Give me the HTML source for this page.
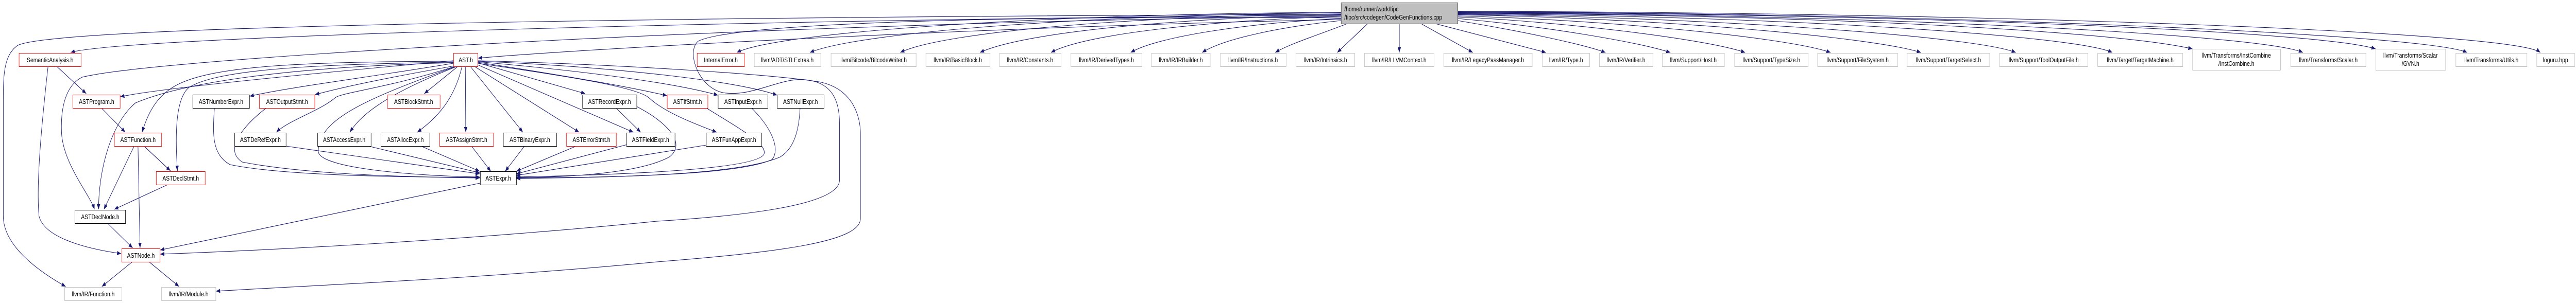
<!DOCTYPE html>
<html><head><meta charset="utf-8"><style>
html,body{margin:0;padding:0;background:#fff;width:100%;height:100%;overflow:hidden;}
svg{display:block;position:absolute;left:0;top:0;width:100vw;height:100vh;}
text{font-family:"Liberation Sans",sans-serif;font-size:13px;fill:#000;}
.e{fill:none;stroke:#191970;stroke-width:1.1;marker-end:url(#a);}
.r{fill:#fff;stroke:#ff0000;stroke-width:1;}
.b{fill:#fff;stroke:#000;stroke-width:1;}
.g{fill:#fff;stroke:#bfbfbf;stroke-width:1;}
</style></head><body>
<svg viewBox="0 0 6272 589" preserveAspectRatio="none" xmlns="http://www.w3.org/2000/svg">
<defs>
<marker id="a" markerUnits="userSpaceOnUse" markerWidth="11" markerHeight="8" refX="10" refY="4" orient="auto">
<path d="M0,0 L10,4 L0,8 z" fill="#191970"/>
</marker>
</defs>

<g class="edges">
<path class="e" d="M3265,28 C2500,30 100,40 40,90 C8,110 8,150 8,200 L8,420 C8,480 100,530 160,557"/>
<path class="e" d="M3265,30 C2000,35 300,70 172,102"/>
<path class="e" d="M3265,32 C2000,40 400,110 200,150 C150,170 148,230 150,260 C155,320 220,380 230,407"/>
<path class="e" d="M3265,38 C2500,50 1500,90 1164,113"/>
<path class="e" d="M3265,35 C2600,30 1800,40 1700,80 C1670,100 1700,170 1760,180 C1830,190 1900,150 1960,155 C2030,160 2044,200 2044,240 L2044,350 C2044,400 1800,420 1600,430 C1100,470 600,488 390,494"/>
<path class="e" d="M3265,24 C2600,26 1900,60 1794,102"/>
<path class="e" d="M3265,25 C2700,28 2100,60 1972,102"/>
<path class="e" d="M3265,27 C2800,30 2300,60 2192,102"/>
<path class="e" d="M3265,29 C2900,34 2500,60 2386,102"/>
<path class="e" d="M3265,32 C3000,38 2650,62 2559,102"/>
<path class="e" d="M3265,36 C3050,44 2820,70 2753,102"/>
<path class="e" d="M3265,40 C3120,52 2980,75 2927,102"/>
<path class="e" d="M3280,46 C3220,65 3140,85 3105,102"/>
<path class="e" d="M3330,46 L3256,102"/>
<path class="e" d="M3407,46 L3407,102"/>
<path class="e" d="M3460,46 L3586,102"/>
<path class="e" d="M3495,46 L3764,102"/>
<path class="e" d="M3549,40 C3700,60 3850,85 3909,102"/>
<path class="e" d="M3549,36 C3750,50 3980,80 4067,102"/>
<path class="e" d="M3549,33 C3800,42 4150,75 4249,102"/>
<path class="e" d="M3549,31 C3900,38 4350,72 4457,102"/>
<path class="e" d="M3549,29 C4000,34 4550,70 4677,102"/>
<path class="e" d="M3549,28 C4100,32 4800,68 4908,102"/>
<path class="e" d="M3549,27 C4300,30 5050,68 5143,102"/>
<path class="e" d="M3549,26 C4400,28 5150,60 5338,95"/>
<path class="e" d="M3549,25 C4500,27 5500,65 5607,102"/>
<path class="e" d="M3549,24 C4600,26 5650,60 5784,95"/>
<path class="e" d="M3549,23 C4700,25 5900,65 6007,102"/>
<path class="e" d="M3549,22 C4800,24 6120,60 6185,102"/>

<path class="e" d="M1104,118 C800,140 400,170 293,188"/>
<path class="e" d="M1104,119 C700,120 500,130 420,170 C380,190 360,220 346,257"/>
<path class="e" d="M1104,121 C700,125 520,140 460,170 C430,190 425,250 432,332"/>
<path class="e" d="M1104,122 C700,130 450,160 330,200 C270,240 240,330 240,407"/>
<path class="e" d="M1104,123 C900,150 700,170 608,187"/>
<path class="e" d="M1107,128 C950,150 830,170 767,184"/>
<path class="e" d="M1108,129 C950,170 830,180 816,190 C780,215 700,235 673,257"/>
<path class="e" d="M1110,129 C900,190 775,230 775,294 C775,330 1050,343 1168,344"/>
<path class="e" d="M1113,129 C950,180 880,220 852,257"/>
<path class="e" d="M1115,129 L1033,182"/>
<path class="e" d="M1125,129 C1110,180 1080,220 1016,257"/>
<path class="e" d="M1133,129 L1134,257"/>
<path class="e" d="M1145,129 L1273,257"/>
<path class="e" d="M1155,129 L1410,257"/>
<path class="e" d="M1163,122 L1425,182"/>
<path class="e" d="M1163,126 L1542,257"/>
<path class="e" d="M1163,121 C1400,150 1550,172 1624,186"/>
<path class="e" d="M1163,123 C1400,150 1550,170 1580,190 C1620,220 1700,243 1745,257"/>
<path class="e" d="M1163,120 C1450,140 1650,163 1748,185"/>
<path class="e" d="M1163,119 C1500,130 1800,158 1892,185"/>
<path class="e" d="M1163,118 C1500,125 1900,145 2000,160 C2080,175 2095,230 2095,260 L2095,425 C2095,470 1900,490 1600,509 C1200,540 800,553 526,566"/>

<path class="e" d="M522,210 C518,260 515,300 560,320 C700,343 1000,344 1168,345"/>
<path class="e" d="M648,210 C600,240 540,290 590,315 C750,340 1000,344 1168,346"/>
<path class="e" d="M696,284 L1168,338"/>
<path class="e" d="M897,284 L1168,336"/>
<path class="e" d="M1025,284 L1168,333"/>
<path class="e" d="M1148,284 L1195,333"/>
<path class="e" d="M1277,284 L1230,333"/>
<path class="e" d="M1403,284 L1257,333"/>
<path class="e" d="M1527,281 L1257,338"/>
<path class="e" d="M1720,282 L1257,341"/>
<path class="e" d="M1720,210 C1800,250 1870,280 1860,300 C1840,330 1500,340 1257,344"/>
<path class="e" d="M1830,210 C1880,250 1900,290 1880,310 C1800,340 1500,345 1257,346"/>
<path class="e" d="M1948,210 C1945,260 1930,290 1900,305 C1800,340 1500,345 1257,347"/>
<path class="e" d="M1550,207 C1630,240 1670,280 1630,305 C1550,340 1350,345 1257,345"/>
<path class="e" d="M1500,210 L1560,257"/>
<path class="e" d="M1169,356 L390,486"/>

<path class="e" d="M247,210 L305,257"/>
<path class="e" d="M326,285 L253,407"/>
<path class="e" d="M336,285 L341,482"/>
<path class="e" d="M352,285 L415,332"/>
<path class="e" d="M408,359 L278,407"/>
<path class="e" d="M262,434 L323,482"/>
<path class="e" d="M322,509 L248,557"/>
<path class="e" d="M363,509 L436,557"/>
<path class="e" d="M138,129 L210,182"/>
<path class="e" d="M117,129 C100,250 88,360 95,420 C110,470 250,488 295,493"/>
</g>

<g text-anchor="middle">
<rect x="3265.5" y="5.5" width="284" height="41" fill="#bfbfbf" stroke="#404040"/>
<text x="3273" y="22" text-anchor="start">/home/runner/work/tipc</text>
<text x="3273" y="38" text-anchor="start">/tipc/src/codegen/CodeGenFunctions.cpp</text>

<rect class="r" x="46.5" y="103.5" width="151" height="26"/><text x="122" y="121">SemanticAnalysis.h</text>
<rect class="r" x="1104.5" y="103.5" width="59" height="26"/><text x="1134" y="121">AST.h</text>
<rect class="r" x="1697.5" y="103.5" width="115" height="26"/><text x="1755" y="121">InternalError.h</text>
<rect class="g" x="1836.5" y="103.5" width="162" height="26"/><text x="1917" y="121">llvm/ADT/STLExtras.h</text>
<rect class="g" x="2023.5" y="103.5" width="207" height="26"/><text x="2127" y="121">llvm/Bitcode/BitcodeWriter.h</text>
<rect class="g" x="2254.5" y="103.5" width="156" height="26"/><text x="2332" y="121">llvm/IR/BasicBlock.h</text>
<rect class="g" x="2433.5" y="103.5" width="150" height="26"/><text x="2508" y="121">llvm/IR/Constants.h</text>
<rect class="g" x="2607.5" y="103.5" width="173" height="26"/><text x="2694" y="121">llvm/IR/DerivedTypes.h</text>
<rect class="g" x="2803.5" y="103.5" width="143" height="26"/><text x="2875" y="121">llvm/IR/IRBuilder.h</text>
<rect class="g" x="2971.5" y="103.5" width="160" height="26"/><text x="3051" y="121">llvm/IR/Instructions.h</text>
<rect class="g" x="3155.5" y="103.5" width="143" height="26"/><text x="3227" y="121">llvm/IR/Intrinsics.h</text>
<rect class="g" x="3322.5" y="103.5" width="169" height="26"/><text x="3407" y="121">llvm/IR/LLVMContext.h</text>
<rect class="g" x="3515.5" y="103.5" width="215" height="26"/><text x="3623" y="121">llvm/IR/LegacyPassManager.h</text>
<rect class="g" x="3755.5" y="103.5" width="115" height="26"/><text x="3813" y="121">llvm/IR/Type.h</text>
<rect class="g" x="3894.5" y="103.5" width="130" height="26"/><text x="3959" y="121">llvm/IR/Verifier.h</text>
<rect class="g" x="4047.5" y="103.5" width="151" height="26"/><text x="4123" y="121">llvm/Support/Host.h</text>
<rect class="g" x="4223.5" y="103.5" width="179" height="26"/><text x="4313" y="121">llvm/Support/TypeSize.h</text>
<rect class="g" x="4425.5" y="103.5" width="195" height="26"/><text x="4523" y="121">llvm/Support/FileSystem.h</text>
<rect class="g" x="4643.5" y="103.5" width="201" height="26"/><text x="4744" y="121">llvm/Support/TargetSelect.h</text>
<rect class="g" x="4868.5" y="103.5" width="215" height="26"/><text x="4976" y="121">llvm/Support/ToolOutputFile.h</text>
<rect class="g" x="5107.5" y="103.5" width="207" height="26"/><text x="5211" y="121">llvm/Target/TargetMachine.h</text>
<rect class="g" x="5338.5" y="95.5" width="214" height="41"/><text x="5445" y="112">llvm/Transforms/InstCombine</text><text x="5445" y="128">/InstCombine.h</text>
<rect class="g" x="5577.5" y="103.5" width="183" height="26"/><text x="5669" y="121">llvm/Transforms/Scalar.h</text>
<rect class="g" x="5784.5" y="95.5" width="170" height="41"/><text x="5869" y="112">llvm/Transforms/Scalar</text><text x="5869" y="128">/GVN.h</text>
<rect class="g" x="5979.5" y="103.5" width="173" height="26"/><text x="6066" y="121">llvm/Transforms/Utils.h</text>
<rect class="g" x="6176.5" y="103.5" width="92" height="26"/><text x="6222" y="121">loguru.hpp</text>

<rect class="r" x="177.5" y="184.5" width="115" height="26"/><text x="235" y="202">ASTProgram.h</text>
<rect class="b" x="469.5" y="184.5" width="138" height="26"/><text x="538" y="202">ASTNumberExpr.h</text>
<rect class="r" x="631.5" y="184.5" width="135" height="26"/><text x="699" y="202">ASTOutputStmt.h</text>
<rect class="r" x="943.5" y="184.5" width="128" height="26"/><text x="1007" y="202">ASTBlockStmt.h</text>
<rect class="b" x="1418.5" y="184.5" width="132" height="26"/><text x="1484" y="202">ASTRecordExpr.h</text>
<rect class="r" x="1624.5" y="184.5" width="99" height="26"/><text x="1674" y="202">ASTIfStmt.h</text>
<rect class="b" x="1748.5" y="184.5" width="121" height="26"/><text x="1809" y="202">ASTInputExpr.h</text>
<rect class="b" x="1892.5" y="184.5" width="114" height="26"/><text x="1949" y="202">ASTNullExpr.h</text>

<rect class="r" x="278.5" y="258.5" width="115" height="26"/><text x="336" y="276">ASTFunction.h</text>
<rect class="b" x="571.5" y="258.5" width="125" height="26"/><text x="634" y="276">ASTDeRefExpr.h</text>
<rect class="b" x="773.5" y="258.5" width="130" height="26"/><text x="838" y="276">ASTAccessExpr.h</text>
<rect class="b" x="927.5" y="258.5" width="119" height="26"/><text x="987" y="276">ASTAllocExpr.h</text>
<rect class="r" x="1070.5" y="258.5" width="131" height="26"/><text x="1136" y="276">ASTAssignStmt.h</text>
<rect class="b" x="1225.5" y="258.5" width="130" height="26"/><text x="1290" y="276">ASTBinaryExpr.h</text>
<rect class="r" x="1379.5" y="258.5" width="121" height="26"/><text x="1440" y="276">ASTErrorStmt.h</text>
<rect class="b" x="1525.5" y="258.5" width="118" height="26"/><text x="1584" y="276">ASTFieldExpr.h</text>
<rect class="b" x="1719.5" y="258.5" width="135" height="26"/><text x="1787" y="276">ASTFunAppExpr.h</text>

<rect class="r" x="380.5" y="333.5" width="119" height="26"/><text x="440" y="351">ASTDeclStmt.h</text>
<rect class="b" x="1169.5" y="333.5" width="88" height="26"/><text x="1213" y="351">ASTExpr.h</text>
<rect class="b" x="182.5" y="408.5" width="123" height="26"/><text x="244" y="426">ASTDeclNode.h</text>
<rect class="r" x="296.5" y="483.5" width="93" height="26"/><text x="343" y="501">ASTNode.h</text>
<rect class="g" x="157.5" y="558.5" width="139" height="26"/><text x="227" y="576">llvm/IR/Function.h</text>
<rect class="g" x="393.5" y="558.5" width="132" height="26"/><text x="459" y="576">llvm/IR/Module.h</text>
</g>
</svg>
</body></html>
